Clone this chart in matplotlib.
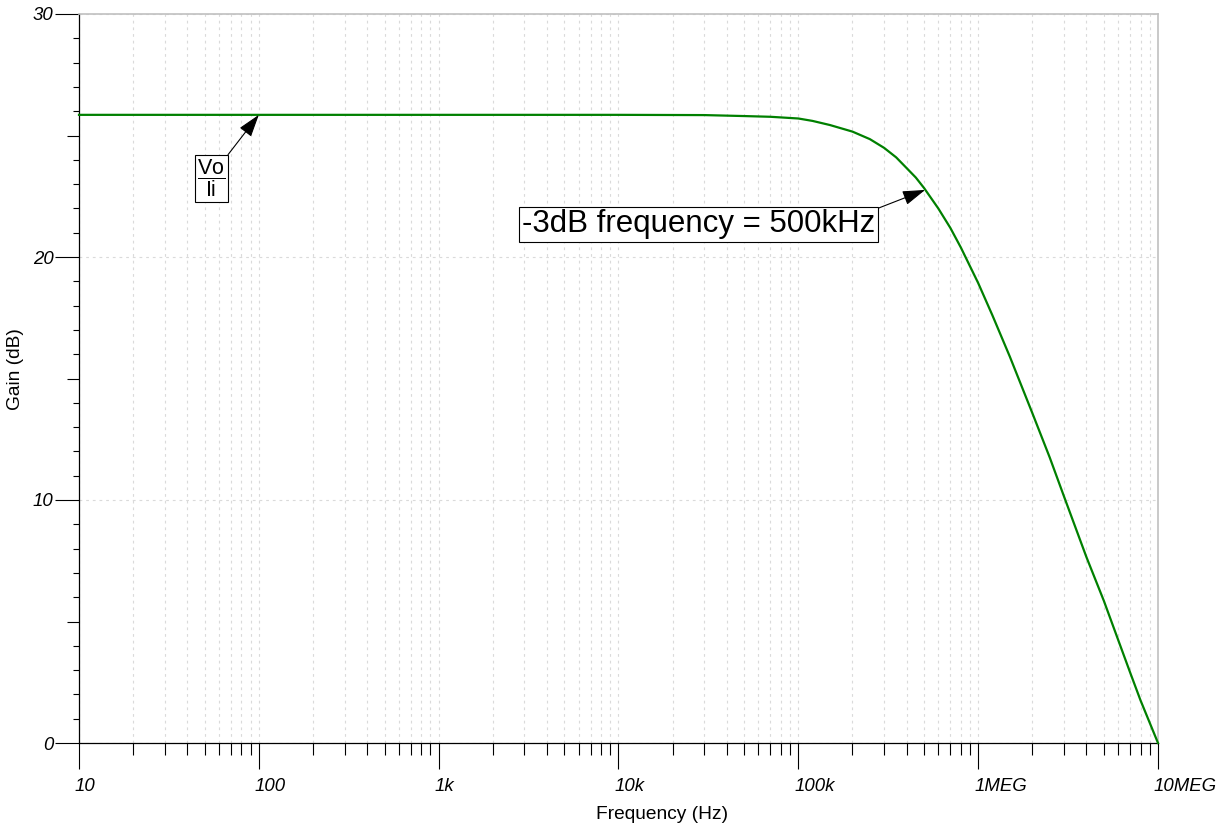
import matplotlib
matplotlib.use("Agg")
import matplotlib.pyplot as plt
import matplotlib.transforms as mtransforms
from matplotlib.ticker import FixedLocator, NullFormatter

# gain curve (Hz, dB)
freq = [10, 100, 1e3, 1e4, 3e4, 5e4, 7e4, 1e5, 1.2e5, 1.5e5, 2e5, 2.5e5, 3e5, 3.5e5,
        4e5, 4.5e5, 5e5, 6e5, 7e5, 8e5, 1e6, 1.2e6, 1.5e6, 2e6, 2.5e6, 3e6, 4e6,
        5e6, 6e6, 7e6, 8e6, 1e7]
gain = [25.85, 25.85, 25.85, 25.85, 25.84, 25.8, 25.77, 25.7, 25.6, 25.43, 25.16, 24.85,
        24.49, 24.1, 23.66, 23.27, 22.84, 22.0, 21.2, 20.4, 18.93, 17.6, 15.9, 13.58,
        11.75, 10.15, 7.65, 5.85, 4.25, 2.9, 1.75, 0.0]

x_ticks = [10, 100, 1e3, 1e4, 1e5, 1e6, 1e7]
x_tick_labels = ["10", "100", "1k", "10k", "100k", "1MEG", "10MEG"]
y_ticks = [0, 10, 20, 30]
y_tick_labels = ["0", "10", "20", "30"]
y_mid_ticks = [5, 15, 25]
y_small_ticks = [v for v in range(1, 30) if v % 5 != 0]

plt.rcParams["font.family"] = ["Liberation Sans", "DejaVu Sans"]
plt.rcParams["mathtext.fontset"] = "custom"
plt.rcParams["mathtext.rm"] = "Liberation Sans"
plt.rcParams["mathtext.it"] = "Liberation Sans:italic"

fig = plt.figure(figsize=(12.21, 8.24), dpi=100)
ax = fig.add_axes([79 / 1221, 1 - 743 / 824, 1079 / 1221, 729 / 824])

ax.plot(freq, gain, color="#008000", lw=1.6, clip_on=False, zorder=3)

ax.set_xscale("log")
ax.set_xlim(10, 1e7)
ax.set_ylim(0, 30)

# x ticks
ax.xaxis.set_major_locator(FixedLocator(x_ticks))
ax.set_xticklabels(x_tick_labels)
minor_x = [m * d for d in [10, 100, 1e3, 1e4, 1e5, 1e6] for m in range(2, 10)]
ax.xaxis.set_minor_locator(FixedLocator(minor_x))
ax.xaxis.set_minor_formatter(NullFormatter())
ax.tick_params(axis="x", which="major", direction="out", length=18.7, width=0.8,
               pad=6.5, labelsize=13.4, color="black")
ax.tick_params(axis="x", which="minor", direction="out", length=8.6, width=0.8,
               color="black")
shift = mtransforms.ScaledTranslation(-4 / 100, 0, fig.dpi_scale_trans)
for lab in ax.get_xticklabels():
    lab.set_horizontalalignment("left")
    lab.set_fontstyle("italic")
    lab.set_transform(lab.get_transform() + shift)

# y ticks
ax.yaxis.set_major_locator(FixedLocator(y_ticks))
ax.set_yticklabels(y_tick_labels)
ax.yaxis.set_minor_locator(FixedLocator(y_small_ticks))
ax.yaxis.set_minor_formatter(NullFormatter())
ax.tick_params(axis="y", which="major", direction="out", length=17.3, width=0.8,
               pad=1, labelsize=13.4)
ax.tick_params(axis="y", which="minor", direction="out", length=4.3, width=0.8)
for lab in ax.get_yticklabels():
    lab.set_fontstyle("italic")

# the half-decade ticks are a bit longer
sec = ax.secondary_yaxis("left")
sec.set_yticks(y_mid_ticks)
sec.tick_params(axis="y", which="major", direction="out", length=8.6, width=0.8,
                labelleft=False)
sec.tick_params(axis="y", which="minor", length=0)
sec.spines["left"].set_visible(False)

# grid
ax.set_axisbelow(True)
ax.grid(True, which="both", axis="x", color="#dadada", lw=0.8, linestyle=(0, (2.5, 3.5)))
ax.grid(True, which="major", axis="y", color="#dadada", lw=0.8, linestyle=(0, (2.5, 3.5)))

for side in ["top", "right"]:
    ax.spines[side].set_color("#c0c0c0")
    ax.spines[side].set_linewidth(1.2)
for side in ["left", "bottom"]:
    ax.spines[side].set_color("black")
    ax.spines[side].set_linewidth(0.9)

ax.set_xlabel("Frequency (Hz)", fontsize=13.8)
ax.set_ylabel("Gain (dB)", fontsize=13.8)
ax.xaxis.set_label_coords(0.540, -0.086)
ax.yaxis.set_label_coords(-0.0593, 0.513)
ax.yaxis.label.set_verticalalignment("center")

# annotations
arrow = dict(arrowstyle="-|>,head_length=1.4,head_width=0.45", mutation_scale=10,
             color="black", lw=0.8, shrinkA=0, shrinkB=0, relpos=(1, 1))
ax.annotate(r"$\dfrac{\mathrm{Vo}}{\mathrm{Ii}}$", xy=(100, 25.85), xytext=(54.6, 23.23),
            fontsize=15.5, ha="center", va="center",
            bbox=dict(boxstyle="square,pad=0.12", fc="white", ec="black", lw=0.8),
            arrowprops=arrow)
ax.annotate("-3dB frequency = 500kHz", xy=(5.07e5, 22.76), xytext=(27860, 21.34),
            fontsize=22.5, ha="center", va="center",
            bbox=dict(boxstyle="square,pad=0.08", fc="white", ec="black", lw=0.8),
            arrowprops=arrow)

fig.savefig("out.png", dpi=100)
